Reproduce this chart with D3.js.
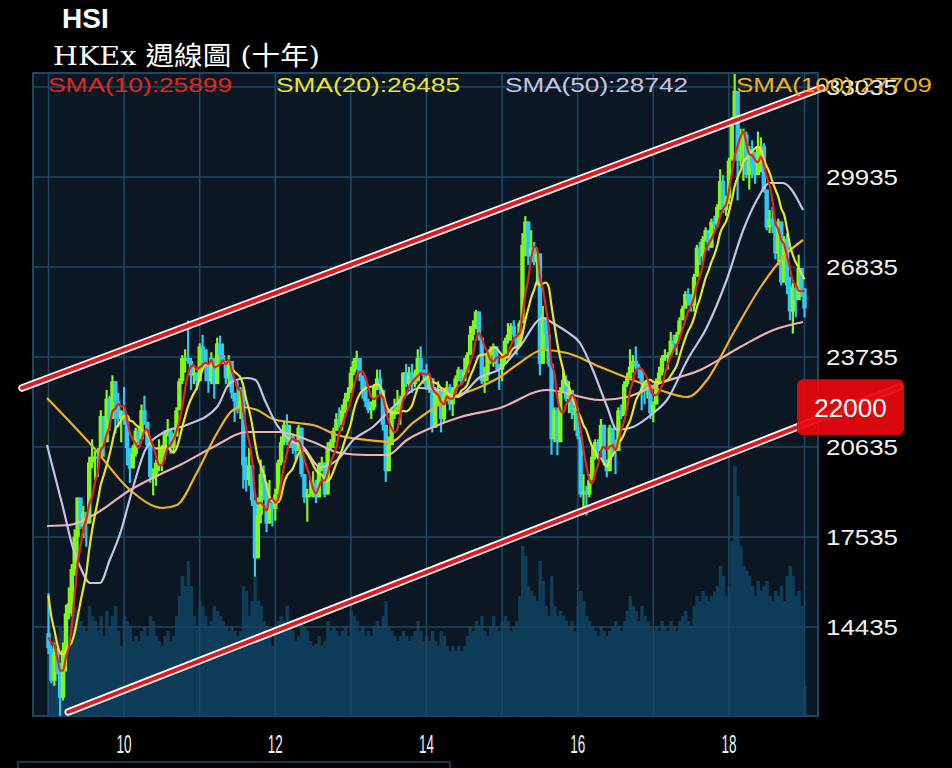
<!DOCTYPE html>
<html><head><meta charset="utf-8">
<script src="https://cdn.jsdelivr.net/npm/d3@7"></script>
<style>html,body{margin:0;background:#000;}svg{display:block}</style>
</head><body>
<svg id="c" width="952" height="768"></svg>
<script>
// ---------- DATA ----------
const startYear = 2009;
const barsPerYear = 26; // one bar = two weeks
const priorCloses = [19933,17981,17682,15230,13969,13542,13888,15047,14220];
const closes = [
13700,12580,13540,12890,12000,13630,14900,15250,16430,17540,18890,17900,18380,18000,20100,20300,20300,20280,21700,20800,22300,21600,22900,22200,21600,21870,
21700,20600,19900,20400,21200,20900,21900,21500,20700,19600,19600,20100,20100,20600,21100,21200,20600,21000,21900,22900,23700,23700,23600,23100,23200,22900,
24100,24000,23500,22900,23700,22800,24200,23800,23600,23000,23600,22500,22200,22000,22600,20000,19500,20000,18800,16800,18300,19700,19400,18000,18700,18500,
19000,20100,20800,21400,20800,21000,20600,20500,21300,19700,18900,19000,19000,19400,18900,20000,20100,19000,20600,20800,21200,21600,21400,21900,22300,22500,
23200,23600,23700,23100,22600,22200,21900,22000,22700,23000,22600,21400,19800,20700,21900,21900,22000,22300,23200,22800,23200,22800,22900,23700,23300,23100,
22700,23000,21300,22500,22600,21600,22500,22700,22100,22600,23000,23300,22900,23200,23800,24500,24800,25300,24400,22900,23100,23800,24000,24100,23500,23300,
23700,24300,24500,24800,24500,24100,24900,27600,28400,27200,27500,27000,27300,23500,25100,24500,23500,20900,21900,20800,22500,22950,22300,22600,21800,21800,
21000,19000,19100,19000,19500,20300,20800,20500,21400,20200,19800,21300,20800,20500,21900,21700,22800,23000,23400,23600,23400,23300,22900,22600,22700,21800,
22100,22900,23200,23700,23800,23800,24300,24200,24500,25000,25400,25900,25700,25500,26500,27500,27200,27800,28100,27500,28400,28300,28900,29800,28800,29200,
30500,31900,32900,30500,30800,31400,30000,30900,30300,30000,31000,31000,29500,28200,28500,28300,27300,28400,26300,27800,26200,25300,26100,25700,26800,26100,25400];
const highs = [
15600,13800,13900,13700,13200,13900,15200,15800,16600,17800,18900,18700,18600,18400,20300,20900,20500,20600,21900,21400,22600,22400,23100,22800,22500,21900,
22700,21600,20500,20700,21300,21300,22100,22400,21500,20900,19900,20200,20900,20700,21200,21600,21100,21100,22000,23000,23800,24000,24990,23700,23400,23100,
24200,24500,24000,23500,23900,23500,24400,24470,24200,23500,23800,23300,22500,22900,22700,22700,20300,20600,19900,18500,18900,20200,20000,19000,19500,18800,
19200,20200,21000,21500,21760,21400,21100,20800,21400,21100,19500,19200,19500,19800,19500,20100,20300,20100,20800,20900,21300,21800,22000,22100,22500,22700,
23400,23700,23950,23500,23100,23000,22300,22200,22800,23300,23300,22500,21300,21000,22000,22300,22600,22400,23200,23500,23400,23500,23300,24000,24100,23300,
23500,23100,22800,22700,22900,22700,22600,22900,22800,22700,23100,23400,23300,23700,23900,24800,25000,25360,25300,24200,23400,23900,24100,24200,24100,23400,
23800,24400,24900,24900,25000,24500,25000,28000,28590,28200,28100,27700,27400,26700,25500,25000,24600,23000,22000,22000,22700,23300,23100,22900,22600,22000,
22000,20900,19700,19300,19700,20600,20900,20900,21600,21300,20200,21400,21000,20900,22000,22100,22900,23200,24000,23800,24100,23500,23200,22900,22900,22800,
22200,23000,23400,23800,24000,23900,24600,24500,24600,25100,25500,26000,26100,25900,26600,27600,27700,27900,28200,28100,28500,28600,29000,30200,30000,29300,
30600,32000,33480,32900,31600,31600,31500,31000,31200,30800,31500,31300,31100,29300,28800,28900,28300,28500,28000,27900,28000,26500,26400,26200,27260,26800,26100];
const lows = [
13500,12500,12400,12800,11345,11900,12900,14700,14800,16200,16800,17800,17500,17200,18000,19900,19500,19600,20800,20300,21000,21200,21800,21100,21300,20800,
21400,20000,19400,19900,20300,20700,20900,21400,20600,19400,18970,19300,19800,19800,20200,21000,20400,20400,21000,21900,22800,23200,23500,22600,22800,22600,
22900,23500,22900,22500,22800,22300,22900,23500,23500,22800,22700,22300,21500,21800,21600,19200,19100,19300,18600,16170,17000,18000,18800,17700,18200,17900,
18100,19000,20000,20700,20700,20600,20400,20200,20600,19600,18700,18060,18900,18900,18700,18900,19800,18900,19200,20500,20600,21300,21300,21200,21800,22200,
22600,23100,23300,22900,22300,22000,21800,21600,21900,22600,22400,21200,19430,19800,20900,21600,21800,21400,22500,22700,22600,22500,22700,23000,23200,22800,
22600,22500,21140,21500,22100,21140,21500,22300,21900,21700,22500,22900,22800,23000,23300,23800,24300,24700,24300,22800,22500,22900,23500,23400,23300,22600,
22900,23500,24200,24300,24400,23800,24300,24900,27200,26900,27100,26900,26200,23100,24000,24000,23400,20370,20800,20350,21200,22600,22200,21800,21600,21200,
20900,18900,18500,18280,18900,19700,20200,20200,20900,20000,19600,20600,20300,19700,20500,21600,22000,22700,23300,23200,23300,23000,21900,22100,22300,21600,
21490,22100,22800,23100,23600,23300,24000,24000,23800,24500,25000,25500,25500,25300,25300,26600,26900,26900,27700,27400,27500,28100,28200,28800,28700,28600,
29000,30500,31900,29130,30300,29800,29900,29500,29900,29700,30500,30100,29400,28100,28000,28000,27100,26900,26200,26700,25900,25000,24540,25100,25900,25800,25100];
const volumes = [
85,70,80,75,90,85,95,90,100,110,105,95,90,85,110,100,95,85,100,80,105,90,100,110,85,70,
100,95,90,75,80,75,85,90,80,100,95,80,75,70,80,85,75,80,100,120,140,130,155,130,100,90,
115,110,100,90,95,110,105,100,95,90,85,90,85,80,85,130,125,100,115,140,115,110,95,90,85,70,
90,95,100,95,110,90,85,75,80,95,90,85,75,70,72,80,70,75,95,85,90,85,80,85,90,80,
105,100,95,85,90,80,85,80,90,95,90,100,115,90,85,80,75,80,85,80,75,80,85,95,85,75,
80,75,85,75,70,85,80,70,65,70,65,70,65,70,80,90,85,95,90,100,85,80,90,100,90,85,
95,100,95,85,90,95,120,170,160,130,125,120,115,155,135,110,100,140,110,100,105,100,95,90,95,85,
110,125,115,100,95,90,85,80,90,85,80,85,90,95,90,85,95,105,120,110,105,95,110,100,95,90,
85,90,85,95,90,85,95,90,85,95,100,105,95,90,110,120,115,125,120,115,120,125,130,150,140,120,
130,175,250,220,170,150,145,140,130,120,135,125,130,135,120,115,125,120,130,115,140,150,140,120,125,110,30];
const sma50 = [[2008.98,20704],[2009.19,18568],[2009.32,17190],[2009.42,16501],[2009.55,15950],[2009.68,15950],[2009.81,16743],[2009.95,17673],[2010.12,19257],[2010.28,20532],[2010.51,21117],[2010.83,21393],[2011.23,22013],[2011.40,22839],[2011.63,23012],[2011.74,22943],[2011.86,22254],[2012.02,21400],[2012.19,20876],[2012.37,20635],[2012.59,19946],[2012.82,20187],[2013.03,20876],[2013.29,21324],[2013.56,22013],[2013.91,22667],[2014.18,22598],[2014.40,22357],[2014.71,23046],[2014.97,23322],[2015.23,24079],[2015.54,25078],[2015.67,24906],[2015.86,24596],[2016.03,24217],[2016.20,23287],[2016.39,22013],[2016.52,21220],[2016.73,21324],[2017.00,21806],[2017.18,22254],[2017.45,23632],[2017.71,24768],[2017.97,26387],[2018.19,28109],[2018.37,29143],[2018.54,29728],[2018.71,29728],[2018.98,28798]];
const sma100 = [[2008.98,22323],[2009.59,20635],[2010.08,19154],[2010.51,18534],[2010.70,18637],[2010.96,19739],[2011.23,21117],[2011.44,21909],[2011.57,22013],[2011.76,21909],[2011.97,21599],[2012.29,21462],[2012.50,21393],[2012.82,21048],[2013.21,20876],[2013.52,20807],[2013.82,21462],[2014.27,22254],[2014.71,22702],[2014.97,23046],[2015.23,23528],[2015.54,23976],[2015.86,23873],[2016.30,23391],[2016.73,22943],[2017.09,22598],[2017.45,22357],[2017.71,22943],[2018.06,24562],[2018.42,26146],[2018.77,27317],[2018.98,27765]];
const sma250 = [[2008.98,17914],[2009.28,17948],[2009.64,18362],[2010.08,19154],[2010.51,19739],[2010.74,20015],[2011.18,20635],[2011.63,21152],[2012.06,21152],[2012.50,20807],[2012.86,20428],[2013.21,20359],[2013.48,20359],[2013.74,20876],[2014.09,21324],[2014.45,21668],[2014.97,21978],[2015.59,22598],[2016.30,22254],[2016.65,22357],[2017.09,22839],[2017.62,23287],[2018.15,24079],[2018.59,24665],[2018.98,24940]];
const upperChannel = [[2008.65,22667],[2019.23,33001]];
const lowerChannel = [[2009.26,11507],[2020.26,22702]];
const priceTag = 22000;
const yTicks = [14435,17535,20635,23735,26835,29935,33035];
const xTicks = [2010,2012,2014,2016,2018];
const xTickLabels = ["10","12","14","16","18"];
const gridYears = [2009,2010,2011,2012,2013,2014,2015,2016,2017,2018,2019];
const smaLabels = ["SMA(10):25899","SMA(20):26485","SMA(50):28742","SMA(100):27709"];
const titleText = "HSI";
const subtitleText = "HKEx 週線圖 (十年)";

// ---------- LAYOUT ----------
const svg = d3.select("#c");
const P = {l:33, r:818, t:73, b:716};
const x = d3.scaleLinear().domain([2009,2019]).range([48.5,804.5]);
const y = d3.scaleLinear().domain([11369,33517]).range([P.b,P.t]);
const vy = d3.scaleLinear().domain([0,260]).range([P.b,456]);
const tOf = i => startYear + i/barsPerYear;
const step = x(startYear + 1/barsPerYear) - x(startYear);

svg.append("rect").attr("width",952).attr("height",768).attr("fill","#000");
svg.append("rect").attr("x",P.l).attr("y",P.t).attr("width",P.r-P.l).attr("height",P.b-P.t)
  .attr("fill","#0b1823").attr("stroke","#1b4864").attr("stroke-width",2);

svg.append("clipPath").attr("id","pc").append("rect")
  .attr("x",P.l).attr("y",P.t).attr("width",P.r-P.l).attr("height",P.b-P.t);
const plot = svg.append("g").attr("clip-path","url(#pc)");

// volume
plot.append("g").selectAll("rect").data(volumes).join("rect")
  .attr("x",(d,i)=>x(tOf(i))-step/2).attr("width",step+0.6)
  .attr("y",d=>vy(d)).attr("height",d=>P.b-vy(d)).attr("fill","#0f3c58");

// grid
plot.append("g").selectAll("line").data(gridYears).join("line")
  .attr("x1",d=>x(d)).attr("x2",d=>x(d)).attr("y1",P.t).attr("y2",P.b)
  .attr("stroke","#1b4864").attr("stroke-width",1.6);
plot.append("g").selectAll("line").data(yTicks).join("line")
  .attr("x1",P.l).attr("x2",P.r).attr("y1",d=>y(d)).attr("y2",d=>y(d))
  .attr("stroke","#1b4864").attr("stroke-width",1.6);

// candles
const allCloses = priorCloses.concat(closes);
const opens = closes.map((c,i)=>allCloses[i+priorCloses.length-1]);
const cg = plot.append("g");
closes.forEach((c,i)=>{
  const o = opens[i];
  const col = c>=o ? "#80f81a" : "#30c8f4";
  const hi = Math.max(highs[i],o,c), lo = Math.min(lows[i],o,c);
  const cx = x(tOf(i));
  cg.append("line").attr("x1",cx).attr("x2",cx).attr("y1",y(hi)).attr("y2",y(lo))
    .attr("stroke",col).attr("stroke-width",2.2);
  const top = y(Math.max(o,c)), bot = y(Math.min(o,c));
  cg.append("rect").attr("x",cx-2.2).attr("width",4.4).attr("y",top).attr("height",Math.max(2,bot-top)).attr("fill",col);
});

// moving averages
function smaCalc(w){
  return closes.map((c,i)=>{
    const j=i+priorCloses.length;
    return [tOf(i), d3.mean(allCloses.slice(Math.max(0,j-w+1),j+1))];
  });
}
const sma10 = smaCalc(5), sma20 = smaCalc(10);
const line = d3.line().x(d=>x(d[0])).y(d=>y(d[1])).curve(d3.curveMonotoneX);
[[sma250,"#eeb2b4"],[sma100,"#f0b21e"],[sma50,"#c4c4e4"],[sma20,"#ece42a"],[sma10,"#e2261c"]].forEach(([d,c])=>{
  plot.append("path").attr("d",line(d)).attr("fill","none").attr("stroke",c).attr("stroke-width",2.2);
});

// channel lines
const straight = d3.line().x(d=>x(d[0])).y(d=>y(d[1]));
[upperChannel, lowerChannel].forEach(d=>{
  svg.append("path").attr("d",straight(d)).attr("stroke","#fff").attr("stroke-width",7.5).attr("stroke-linecap","round").attr("fill","none");
  svg.append("path").attr("d",straight(d)).attr("stroke","#e21a1f").attr("stroke-width",4).attr("stroke-linecap","round").attr("fill","none");
});

// price tag box
const by = y(priceTag);
svg.append("rect").attr("x",797).attr("y",by-28).attr("width",107).attr("height",56).attr("rx",6)
  .attr("fill","#e8080e").attr("fill-opacity",0.93);
svg.append("text").attr("x",850.5).attr("y",by).attr("dy","0.36em").attr("text-anchor","middle")
  .attr("fill","#fff").attr("font-family","Liberation Sans, Arial, sans-serif").attr("font-size",26)
  .text(d3.format("d")(priceTag));

// y tick labels
svg.append("g").selectAll("text").data(yTicks).join("text")
  .attr("x",826).attr("y",d=>y(d)).attr("dy","0.36em")
  .attr("fill","#f2f2f2").attr("font-family","Liberation Sans, Arial, sans-serif").attr("font-size",22)
  .attr("textLength",72).attr("lengthAdjust","spacingAndGlyphs").text(d=>d);

// x tick labels
svg.append("g").selectAll("text").data(xTicks).join("text")
  .attr("x",d=>x(d)).attr("y",753).attr("text-anchor","middle")
  .attr("fill","#f2f2f2").attr("font-family","Liberation Sans, Arial, sans-serif").attr("font-size",25)
  .attr("textLength",15).attr("lengthAdjust","spacingAndGlyphs").text((d,i)=>xTickLabels[i]);

// SMA legend labels
const smaPos = [[48,184,"#e2261c"],[276,184,"#ece42a"],[505,183,"#c4c4e4"],[736,196,"#f0b21e"]];
smaLabels.forEach((t,i)=>{
  svg.append("text").attr("x",smaPos[i][0]).attr("y",92).attr("fill",smaPos[i][2])
    .attr("font-family","Liberation Sans, Arial, sans-serif").attr("font-size",20)
    .attr("textLength",smaPos[i][1]).attr("lengthAdjust","spacingAndGlyphs").text(t);
});

// titles
svg.append("text").attr("x",62).attr("y",28).attr("fill","#fff").attr("font-weight","bold")
  .attr("font-family","Liberation Sans, Arial, sans-serif").attr("font-size",28).text(titleText);
svg.append("text").attr("x",53).attr("y",65).attr("fill","#fff")
  .attr("font-family","'DejaVu Serif', 'Noto Sans CJK TC', serif").attr("font-size",26)
  .attr("textLength",267).attr("lengthAdjust","spacingAndGlyphs").text(subtitleText);

// partial lower panel frame
svg.append("rect").attr("x",18).attr("y",762).attr("width",432).attr("height",20)
  .attr("fill","none").attr("stroke","#1e4a66").attr("stroke-width",1.5);
</script>
</body></html>
